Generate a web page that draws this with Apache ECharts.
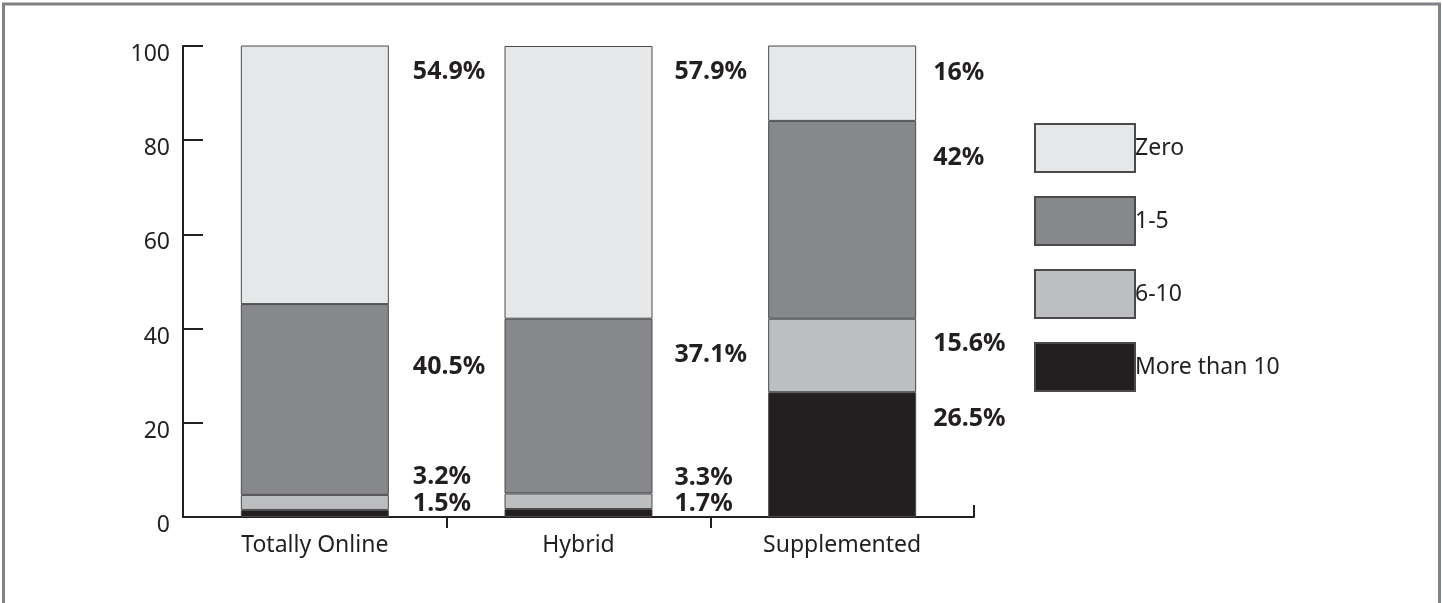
<!DOCTYPE html>
<html>
<head>
<meta charset="utf-8">
<script src="https://cdn.jsdelivr.net/npm/echarts@6/dist/echarts.min.js"></script>
<style>
html,body{margin:0;padding:0;background:#fff;}
#chart{width:1442px;height:603px;}
</style>
</head>
<body>
<div id="chart"></div>
<script>
// ---- data ----
var categories = ['Totally Online', 'Hybrid', 'Supplemented'];
var seriesNames = ['Zero', '1-5', '6-10', 'More than 10'];
var zero = [54.9, 57.9, 16];
var oneToFive = [40.5, 37.1, 42];
var sixToTen = [3.2, 3.3, 15.6];
var moreThanTen = [1.5, 1.7, 26.5];
var yTicks = [0, 20, 40, 60, 80, 100];

// ---- styles / layout (not data) ----
var colors = {
  'Zero': '#e6e7e8',
  '1-5': '#87888b',
  '6-10': '#bcbec0',
  'More than 10': '#231f20'
};
// label anchor relative to each bar segment's top-left corner, in px
var labelPlacement = {
  'Zero':         [[172, 26], [170, 26], [165, 27]],
  '1-5':          [[172, 63], [170, 36], [165, 37]],
  '6-10':         [[172, -18], [170, -16], [165, 25]],
  'More than 10': [[172, -6], [170, -5], [165, 27]]
};
var textColor = '#231f20';
var font = '"Noto Sans", "Open Sans", sans-serif';

function makeSeries(name, values) {
  return {
    name: name,
    type: 'bar',
    stack: 'total',
    barWidth: 148,
    itemStyle: {
      color: colors[name],
      borderColor: '#4a4a4c',
      borderWidth: 1
    },
    emphasis: { disabled: true },
    data: values.map(function (v, i) {
      return {
        value: v,
        label: {
          show: true,
          position: labelPlacement[name][i],
          align: 'left',
          verticalAlign: 'middle',
          formatter: '{c}%',
          fontFamily: font,
          fontWeight: 'bold',
          fontSize: 25,
          color: textColor
        }
      };
    })
  };
}

var chart = echarts.init(document.getElementById('chart'), null, { renderer: 'canvas' });

var option = {
  backgroundColor: '#ffffff',
  animation: false,
  textStyle: { fontFamily: font, color: textColor },
  graphic: [{
    type: 'rect',
    shape: { x: 3.5, y: 4, width: 1436, height: 660 },
    style: { fill: 'none', stroke: '#808285', lineWidth: 3 },
    silent: true
  }],
  grid: {
    left: 183, right: 468, top: 46, bottom: 86,
    containLabel: false,
    outerBoundsMode: 'none'
  },
  legend: {
    data: seriesNames,
    orient: 'vertical',
    left: 1034,
    top: 123,
    padding: 0,
    itemWidth: 100,
    itemHeight: 48,
    itemGap: 23,
    icon: 'rect',
    selectedMode: false,
    textStyle: {
      fontFamily: font,
      fontSize: 23,
      color: textColor,
      padding: [0, 0, 0, -5]
    }
  },
  xAxis: [{
    type: 'category',
    data: categories,
    position: 'bottom',
    axisLine: { show: true, lineStyle: { color: textColor, width: 2 } },
    axisTick: { show: false },
    axisLabel: { fontFamily: font, fontSize: 23, color: textColor, margin: 17 },
    splitLine: { show: false }
  }, {
    type: 'value',
    min: 0, max: 3,
    position: 'bottom',
    axisLine: { show: false },
    axisTick: { show: true, inside: false, length: 11, customValues: [1, 2],
      lineStyle: { color: textColor, width: 2 } },
    axisLabel: { show: false },
    splitLine: { show: false }
  }, {
    type: 'value',
    min: 0, max: 3,
    position: 'bottom',
    axisLine: { show: false },
    axisTick: { show: true, inside: true, length: 12, customValues: [0, 3],
      lineStyle: { color: textColor, width: 2 } },
    axisLabel: { show: false },
    splitLine: { show: false }
  }],
  yAxis: {
    type: 'value',
    min: yTicks[0],
    max: yTicks[yTicks.length - 1],
    interval: yTicks[1] - yTicks[0],
    axisLine: { show: true, lineStyle: { color: textColor, width: 2 } },
    axisTick: { show: true, inside: true, length: 20, lineStyle: { color: textColor, width: 2 } },
    axisLabel: {
      fontFamily: font, fontSize: 23, color: textColor, margin: 13,
      lineHeight: 17,
      verticalAlign: 'middle',
      formatter: function (v) { return '\n' + v; }
    },
    splitLine: { show: false }
  },
  series: [
    makeSeries('More than 10', moreThanTen),
    makeSeries('6-10', sixToTen),
    makeSeries('1-5', oneToFive),
    makeSeries('Zero', zero)
  ]
};
chart.setOption(option);
</script>
</body>
</html>
